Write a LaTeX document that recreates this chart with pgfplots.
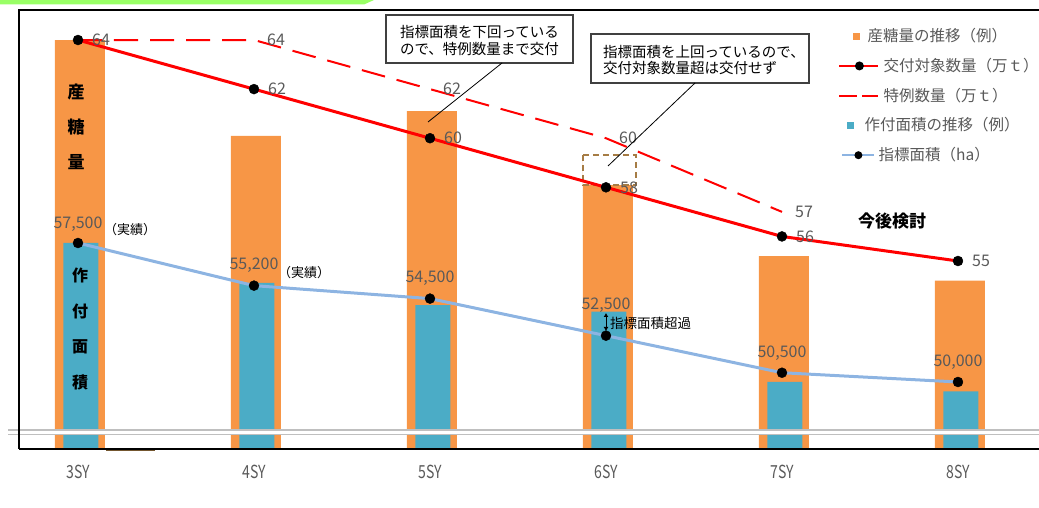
\documentclass[border=0pt]{standalone}
\usepackage{fontspec}
\setmainfont{Noto Sans CJK JP}
\usepackage{graphicx}
\usepackage{pgfplots}
\pgfplotsset{compat=1.18}
\usetikzlibrary{arrows.meta}
\definecolor{barOrange}{HTML}{F79646}
\definecolor{barBlue}{HTML}{4BACC6}
\definecolor{lineBlue}{HTML}{8DB4E2}
\definecolor{lblGray}{HTML}{595959}
\definecolor{boxBrown}{HTML}{A67C45}
\definecolor{greenBand}{HTML}{99FF66}
\definecolor{breakGray}{HTML}{BFBFBF}
\definecolor{boxEdge}{HTML}{404040}
\newcommand{\fs}[1]{\fontsize{#1pt}{#1pt}\selectfont}

\begin{document}
\begin{tikzpicture}
\useasboundingbox (0,0) rectangle (1039pt,508pt);
\begin{scope}[x=1pt,y=-1pt,shift={(0pt,508pt)}]
  \fill[greenBand] (0,0) -- (374,0) -- (364,4.5) -- (0,4.5) -- cycle;
\end{scope}

\pgfplotsset{
  base/.style={
    at={(19pt,59pt)}, anchor=south west,
    scale only axis, width=1020pt, height=439pt,
    xmin=-0.33523, xmax=5.46023,
    axis line style={draw=none},
    ytick=\empty,
    clip=true,
  }
}

% ---------- axis A: sugar production (10,000 t) ----------
\begin{axis}[base, ymin=47.344, ymax=65.222,
  xtick={0,1,2,3,4,5},
  xticklabels={{\scalebox{0.78}[1]{3SY}},{\scalebox{0.78}[1]{4SY}},{\scalebox{0.78}[1]{5SY}},{\scalebox{0.78}[1]{6SY}},{\scalebox{0.78}[1]{7SY}},{\scalebox{0.78}[1]{8SY}}},
  major tick length=0pt,
  xticklabel style={anchor=center, yshift=-23pt, text=lblGray, font=\fs{18}},
]
\addplot[ybar, bar width=50pt, bar shift=2pt, fill=barOrange, draw=none]
  coordinates {(0,64) (1,60.1) (2,61.1) (3,59.3) (4,55.2) (5,54.2)};
\draw[boxBrown, line width=1.8pt, dash pattern=on 6pt off 4pt, fill=white]
  (axis cs:2.869,59.317) rectangle (axis cs:3.170,58.095);
\addplot[red, line width=2pt, dash pattern=on 24pt off 12pt]
  coordinates {(0,64) (1,64) (2,62) (3,60) (4,57)};
\addplot[red, line width=3pt, mark=*, mark size=5pt, mark options={solid, fill=black, draw=black, line width=0.4pt}]
  coordinates {(0,64) (1,62) (2,60) (3,58) (4,56) (5,55)};
% labels of the solid line
\foreach \xx/\yy in {0/64,1/62,2/60,3/58,4/56,5/55}{
  \edef\temp{\noexpand\node[anchor=west, xshift=14pt, inner sep=0pt, text=lblGray, font=\noexpand\fs{16}] at (axis cs:\xx,\yy) {\yy};}
  \temp
}
% labels of the dashed line
\foreach \xx/\yy in {1/64,2/62,3/60,4/57}{
  \edef\temp{\noexpand\node[anchor=west, xshift=13pt, inner sep=0pt, text=lblGray, font=\noexpand\fs{16}] at (axis cs:\xx,\yy) {\yy};}
  \temp
}
\end{axis}

% ---------- axis B: planted area (ha) ----------
\begin{axis}[base, ymin=46385, ymax=70072,
  xtick=\empty,
  legend cell align=left,
  legend style={at={(0.80294,0.95786)}, anchor=north west, draw=none, fill=none,
    inner sep=0pt, row sep=14.75pt, column sep=4pt,
    nodes={inner sep=0pt, text height=13pt, text depth=2pt, font=\fs{15.5}, text=lblGray}},
]
\addlegendimage{legend image code/.code={\path[draw=none,fill=none] (0pt,-6pt) rectangle (39pt,6pt); \fill[barOrange, draw=none] (14pt,-3.5pt) rectangle (21pt,3.5pt);}}
\addlegendentry{\hspace*{-16pt}産糖量の推移（例）}
\addlegendimage{legend image code/.code={\path[draw=none,fill=none] (0pt,-6pt) rectangle (39pt,6pt); \draw[red, line width=2.5pt] (0pt,0pt) -- (39pt,0pt); \fill[black, draw=none] (20pt,0pt) circle (4.5pt);}}
\addlegendentry{交付対象数量（万ｔ）}
\addlegendimage{legend image code/.code={\path[draw=none,fill=none] (0pt,-6pt) rectangle (39pt,6pt); \draw[red, line width=2pt] (0pt,0pt) -- (18pt,0pt); \draw[red, line width=2pt] (23pt,0pt) -- (39pt,0pt);}}
\addlegendentry{特例数量（万ｔ）}
\addlegendimage{legend image code/.code={\path[draw=none,fill=none] (0pt,-6pt) rectangle (39pt,6pt); \fill[barBlue, draw=none] (8pt,-3.5pt) rectangle (15pt,3.5pt);}}
\addlegendentry{\hspace*{-19pt}作付面積の推移（例）}
\addlegendimage{legend image code/.code={\path[draw=none,fill=none] (0pt,-6pt) rectangle (39pt,6pt); \draw[lineBlue, line width=2.5pt] (3pt,0pt) -- (35pt,0pt); \fill[black, draw=none] (19pt,0pt) circle (4pt);}}
\addlegendentry{\hspace*{-5pt}指標面積（ha）}

\addplot[ybar, bar width=35pt, bar shift=3pt, fill=barBlue, draw=none, forget plot]
  coordinates {(0,57500) (1,55350) (2,54150) (3,53800) (4,50000) (5,49500)};
\addplot[lineBlue, line width=3pt, mark=*, mark size=5pt, mark options={solid, fill=black, draw=black, line width=0.4pt}, forget plot]
  coordinates {(0,57500) (1,55200) (2,54500) (3,52500) (4,50500) (5,50000)};
\node[yshift=19pt, inner sep=0pt, text=lblGray, font=\fs{16}] at (axis cs:0,57500) {57,500};
\node[yshift=20pt, inner sep=0pt, text=lblGray, font=\fs{16}] at (axis cs:1,55200) {55,200};
\node[yshift=20pt, inner sep=0pt, text=lblGray, font=\fs{16}] at (axis cs:2,54500) {54,500};
\node[yshift=30pt, inner sep=0pt, text=lblGray, font=\fs{16}] at (axis cs:3,52500) {52,500};
\node[yshift=20pt, inner sep=0pt, text=lblGray, font=\fs{16}] at (axis cs:4,50500) {50,500};
\node[yshift=20pt, inner sep=0pt, text=lblGray, font=\fs{16}] at (axis cs:5,50000) {50,000};
\end{axis}

% ---------- overlays in image pixel coordinates ----------
\begin{scope}[x=1pt,y=-1pt,shift={(0pt,508pt)}]
  % callout 1
  \draw[boxEdge, line width=1.2pt, fill=white] (386,15) rectangle (573,63);
  \node[align=center, inner sep=0pt, font=\fontsize{14.5pt}{17pt}\selectfont] at (479.5,40.5)
    {指標面積を下回っている\\ので、特例数量まで交付};
  \draw[black, line width=0.8pt] (502,63) -- (428,122);
  % callout 2
  \draw[boxEdge, line width=1.2pt, fill=white] (591,34) rectangle (809,83);
  \node[anchor=west, align=left, inner sep=0pt, font=\fontsize{14.5pt}{16.5pt}\selectfont] at (603,60)
    {指標面積を上回っているので、\\交付対象数量超は交付せず};
  \draw[black, line width=0.8pt] (695,83) -- (608,166);
  % vertical labels on the first bar
  \foreach \ch/\yy in {産/92,糖/127,量/162}{
    \node[inner sep=0pt, font=\bfseries\fs{17}] at (76,\yy) {\ch};
  }
  \foreach \ch/\yy in {作/275,付/311,面/347,積/382}{
    \node[inner sep=0pt, font=\bfseries\fs{16}] at (80,\yy) {\ch};
  }
  \node[inner sep=0pt, font=\fs{13}] at (130,230) {（実績）};
  \node[inner sep=0pt, font=\fs{13}] at (304,273) {（実績）};
  \node[inner sep=0pt, font=\bfseries\fs{17}] at (892,221) {今後検討};
  \draw[{Latex[length=4pt,width=5pt]}-{Latex[length=4pt,width=5pt]}, line width=1pt] (606,313) -- (606,331);
  \node[anchor=west, inner sep=0pt, font=\fs{13.5}] at (610,323) {指標面積超過};
  % axis break
  \fill[white] (8,430) rectangle (1039,434.5);
  \draw[breakGray, line width=1.3pt] (8,430) -- (1039,430) (8,434.5) -- (1039,434.5);
  % frame
  \draw[black, line width=1.6pt] (19,449) -- (19,10) -- (1039,10);
  \draw[black, line width=1.6pt] (19,449) -- (1039,449);
  \draw[boxBrown!70!black, line width=1pt] (106,450.5) -- (155,450.5);
\end{scope}
\end{tikzpicture}
\end{document}
